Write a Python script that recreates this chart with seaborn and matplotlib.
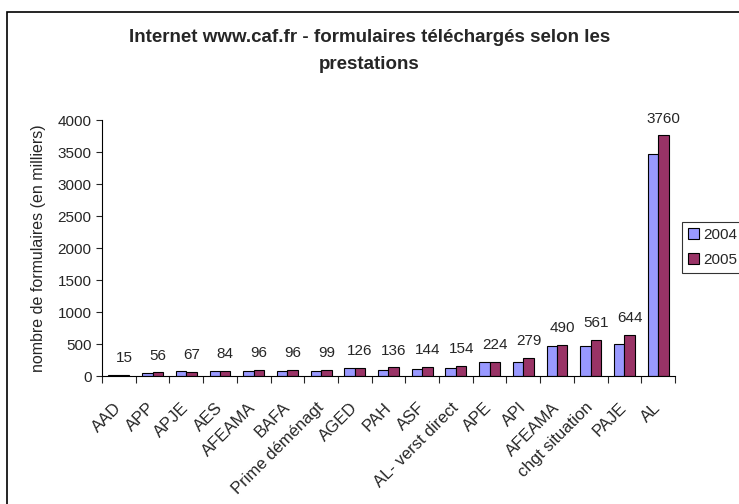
import matplotlib
matplotlib.use("Agg")
import matplotlib.pyplot as plt
import pandas as pd
import seaborn as sns
from matplotlib.patches import Rectangle

# donnees
prestations = ["AAD", "APP", "APJE", "AES", "AFEAMA", "BAFA", "Prime déménagt",
               "AGED", "PAH", "ASF", "AL- verst direct", "APE", "API", "AFEAMA ",
               "chgt situation", "PAJE", "AL"]
val_2004 = [12, 40, 75, 78, 75, 75, 75, 118, 92, 110, 132, 226, 226, 468, 465, 505, 3470]
val_2005 = [15, 56, 67, 84, 96, 96, 99, 126, 136, 144, 154, 224, 279, 490, 561, 644, 3760]
annees = ["2004", "2005"]
couleurs = ["#9999FF", "#993366"]

df = pd.DataFrame({
    "prestation": prestations * 2,
    "annee": ["2004"] * len(prestations) + ["2005"] * len(prestations),
    "valeur": val_2004 + val_2005,
})

sns.set_style("white")
plt.rcParams["font.family"] = ["Liberation Sans", "DejaVu Sans"]

fig = plt.figure(figsize=(7.39, 5.04), dpi=100)
ax = fig.add_axes([102 / 739, 1 - 376 / 504, (675 - 102) / 739, (376 - 120) / 504])

sns.barplot(data=df, x="prestation", y="valeur", hue="annee", hue_order=annees,
            palette=couleurs, width=0.62, gap=0, edgecolor="black", linewidth=0.8,
            saturation=1, ax=ax, legend=True)

# etiquettes seulement pour 2005
ax.bar_label(ax.containers[1], labels=[str(v) for v in val_2005], padding=7, fontsize=11)

ax.set_ylim(0, 4000)
ax.set_xlim(-0.5, len(prestations) - 0.5)
ax.set_yticks(range(0, 4001, 500))
ax.tick_params(axis="y", labelsize=11, length=4, direction="out", left=True, width=0.8)
# graduations entre les categories, comme Excel
ax.set_xticks([i for i in range(len(prestations))])
ax.set_xticklabels([p.strip() for p in prestations], rotation=45, ha="right", va="center",
                   rotation_mode="anchor", fontsize=12)
ax.tick_params(axis="x", length=0, pad=21)
ax.set_xticks([i - 0.5 for i in range(len(prestations) + 1)], minor=True)
ax.tick_params(axis="x", which="minor", length=5, direction="out", bottom=True, width=0.8)
for s in ["top", "right"]:
    ax.spines[s].set_visible(False)
for s in ["left", "bottom"]:
    ax.spines[s].set_color("black")
    ax.spines[s].set_linewidth(0.8)

ax.set_xlabel("")
ax.set_ylabel("nombre de formulaires (en milliers)", fontsize=11.5, labelpad=8)

fig.suptitle("Internet www.caf.fr - formulaires téléchargés selon les\nprestations",
             fontsize=13.5, fontweight="bold", y=1 - 29 / 504, va="top", linespacing=1.75)

leg = ax.legend(loc="upper left", bbox_to_anchor=(682 / 739, 1 - 222 / 504),
                bbox_transform=fig.transFigure, frameon=True, fancybox=False,
                fontsize=11, handlelength=0.7, handleheight=0.7, handletextpad=0.3,
                borderpad=0.4, labelspacing=0.7, borderaxespad=0)
leg.get_frame().set_edgecolor("black")
leg.get_frame().set_linewidth(0.8)

fig.patches.append(Rectangle((7 / 739, -0.1), 1.2, 1 - 12 / 504 + 0.1, transform=fig.transFigure,
                             fill=False, edgecolor="black", linewidth=1.2, zorder=0))

fig.savefig("out.png", dpi=100)
